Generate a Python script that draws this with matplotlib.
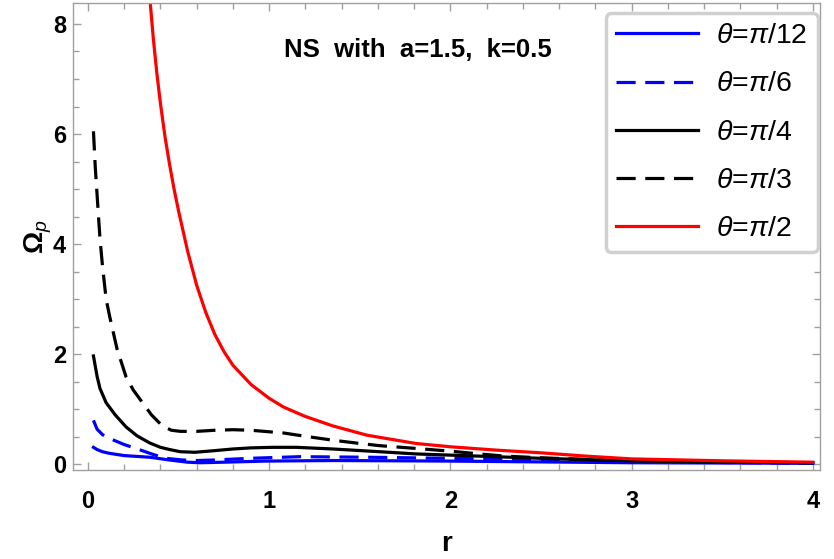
import numpy as np
import matplotlib
matplotlib.use("Agg")
import matplotlib.pyplot as plt
from matplotlib.ticker import MultipleLocator

plt.rcParams['font.family'] = ['Liberation Sans', 'DejaVu Sans']
plt.rcParams['mathtext.fontset'] = 'custom'
plt.rcParams['mathtext.rm'] = 'Liberation Sans'
plt.rcParams['mathtext.it'] = 'Liberation Sans:italic'
plt.rcParams['mathtext.bf'] = 'Liberation Sans:bold'

# ---- data: r and Omega_p for each theta ----
r_pi12 = [0.03, 0.05, 0.08, 0.12, 0.2, 0.34, 0.45, 0.55, 0.62, 0.75, 0.98, 1.35, 1.7, 2.0, 2.5, 3.0, 3.5, 4.0]
w_pi12 = [0.31, 0.27, 0.23, 0.20, 0.16, 0.13, 0.08, 0.04, 0.03, 0.04, 0.06, 0.07, 0.065, 0.06, 0.045, 0.03, 0.025, 0.02]

r_pi6 = [0.03, 0.05, 0.08, 0.12, 0.2, 0.29, 0.36, 0.43, 0.52, 0.6, 0.7, 0.89, 1.17, 1.54, 2.0, 2.5, 3.0, 3.5, 4.0]
w_pi6 = [0.80, 0.64, 0.54, 0.47, 0.36, 0.26, 0.18, 0.11, 0.08, 0.07, 0.08, 0.11, 0.14, 0.13, 0.11, 0.08, 0.05, 0.035, 0.02]

r_pi4 = [0.03, 0.05, 0.066, 0.1, 0.15, 0.21, 0.27, 0.34, 0.4, 0.45, 0.51, 0.59, 0.7, 0.8, 0.9, 1.02, 1.15,
         1.35, 1.61, 1.81, 2.16, 2.5, 3.0, 3.5, 4.0]
w_pi4 = [1.97, 1.6, 1.38, 1.12, 0.9, 0.68, 0.52, 0.39, 0.31, 0.27, 0.23, 0.22, 0.25, 0.28, 0.30, 0.31, 0.31,
         0.28, 0.23, 0.19, 0.15, 0.11, 0.065, 0.04, 0.03]

r_pi3 = [0.03, 0.04, 0.052, 0.066, 0.08, 0.1, 0.12, 0.16, 0.21, 0.25, 0.29, 0.35, 0.41, 0.46, 0.51, 0.6, 0.7,
         0.8, 0.9, 1.08, 1.2, 1.35, 1.5, 1.61, 1.81, 2.0, 2.16, 2.3, 2.5, 2.75, 3.0, 3.5, 4.0]
w_pi3 = [6.05, 5.4, 4.8, 4.1, 3.6, 3.0, 2.68, 2.1, 1.59, 1.35, 1.17, 0.9, 0.70, 0.62, 0.60, 0.60, 0.62,
         0.63, 0.62, 0.57, 0.51, 0.44, 0.38, 0.34, 0.29, 0.24, 0.19, 0.15, 0.12, 0.09, 0.07, 0.045, 0.03]

r_pi2 = [0.33, 0.342, 0.36, 0.38, 0.4, 0.425, 0.45, 0.475, 0.5, 0.55, 0.6, 0.65, 0.7, 0.75, 0.8, 0.9,
         1.0, 1.08, 1.2, 1.35, 1.54, 1.81, 2.0, 2.25, 2.5, 2.75, 3.0, 3.5, 4.0]
w_pi2 = [9.0, 8.44, 7.75, 7.1, 6.55, 5.95, 5.45, 5.0, 4.6, 3.87, 3.25, 2.76, 2.36, 2.05, 1.80, 1.45,
         1.20, 1.04, 0.87, 0.70, 0.53, 0.38, 0.32, 0.26, 0.21, 0.15, 0.10, 0.065, 0.04]

labels = [r'$\theta$=$\pi$/12', r'$\theta$=$\pi$/6', r'$\theta$=$\pi$/4',
          r'$\theta$=$\pi$/3', r'$\theta$=$\pi$/2']

fig = plt.figure(figsize=(8.34, 5.59), dpi=100)
ax = fig.add_axes([0.0875, 0.159, 0.8955, 0.8356])

lw = 2.3
ax.plot(r_pi12, w_pi12, color='#0000ff', lw=lw, label=labels[0])
ax.plot(r_pi6, w_pi6, color='#0000ff', lw=lw, ls=(0, (6, 3)), label=labels[1])
ax.plot(r_pi4, w_pi4, color='black', lw=lw, label=labels[2])
ax.plot(r_pi3, w_pi3, color='black', lw=lw, ls=(0, (6, 3)), label=labels[3])
ax.plot(r_pi2, w_pi2, color='#ff0000', lw=lw, label=labels[4])

ax.set_xlim(-0.083, 4.039)
ax.set_ylim(-0.104, 8.38)

ax.xaxis.set_major_locator(MultipleLocator(1))
ax.xaxis.set_minor_locator(MultipleLocator(0.2))
ax.yaxis.set_major_locator(MultipleLocator(2))
ax.yaxis.set_minor_locator(MultipleLocator(0.5))

for s in ax.spines.values():
    s.set_color('#a0a0a0')
    s.set_linewidth(1.0)
ax.tick_params(which='both', direction='in', top=True, right=True,
               color='#a0a0a0', width=1.0, labelsize=17)
ax.tick_params(which='major', length=6)
ax.tick_params(which='minor', length=4)
ax.tick_params(axis='x', which='major', pad=14)
ax.tick_params(axis='y', which='major', pad=5)
for t in ax.get_xticklabels() + ax.get_yticklabels():
    t.set_fontweight('bold')

ax.set_xlabel('r', fontsize=20, fontweight='bold', labelpad=13)
ax.set_ylabel(r'$\mathbf{\Omega}_{\mathit{p}}$', fontsize=20, labelpad=-1)

ax.text(1.82, 7.53, 'NS  with  a=1.5,  k=0.5', fontsize=18.5, fontweight='bold',
        ha='center', va='center')

leg = ax.legend(loc='upper right', bbox_to_anchor=(0.997, 0.978), borderaxespad=0,
                fontsize=20.5, handlelength=2.9, labelspacing=0.78,
                handletextpad=0.63, borderpad=0.35, frameon=True, fancybox=True)
frame = leg.get_frame()
frame.set_edgecolor('#d0d0d0')
frame.set_linewidth(2.5)
frame.set_alpha(1)

fig.savefig('out.png', dpi=100)
